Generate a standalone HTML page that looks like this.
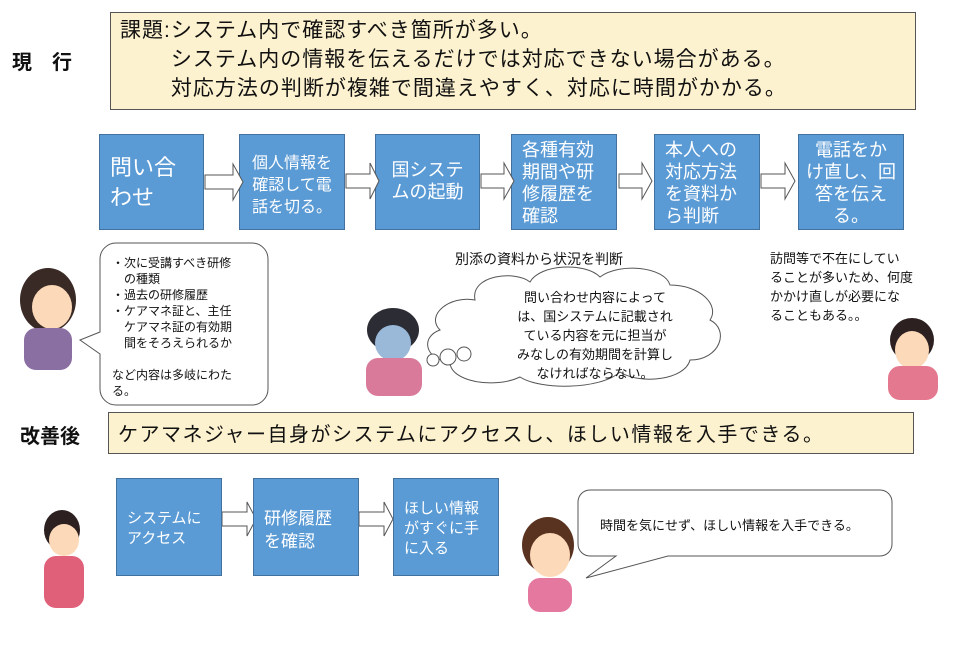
<!DOCTYPE html>
<html><head><meta charset="utf-8"><style>
body{margin:0;width:960px;height:652px;background:#fff;position:relative;overflow:hidden;font-family:"Liberation Sans","Noto Sans CJK JP",sans-serif;color:#111}
.a{position:absolute}
.y{background:#fdf2cf;border:1px solid #555}
.b{position:absolute;background:#5b9bd5;border:1px solid #41719c;color:#fff;box-sizing:border-box}
.b1{font-size:16px;line-height:22px;text-align:center;padding-top:6px}
</style></head><body>
<div class="a" style="left:12px;top:46px;font-size:20px;font-weight:bold">現　行</div>
<div class="a y" style="left:110px;top:12px;width:804px;height:96px"></div>
<div class="a" style="left:120px;top:16px;font-size:21px;letter-spacing:1px;line-height:29px;white-space:pre">課題:システム内で確認すべき箇所が多い。
　　 システム内の情報を伝えるだけでは対応できない場合がある。
　　 対応方法の判断が複雑で間違えやすく、対応に時間がかかる。</div>

<div class="b" style="left:99px;top:134px;width:105px;height:96px;font-size:22px;line-height:30px;padding:18px 0 0 10px">問い合<br>わせ</div>
<div class="b b1" style="left:239px;top:134px;width:106px;height:96px;padding-top:18px">個人情報を<br>確認して電<br>話を切る。</div>
<div class="b b1" style="left:375px;top:134px;width:105px;height:96px;font-size:18px;padding-top:24px">国システ<br>ムの起動</div>
<div class="b b1" style="left:511px;top:134px;width:106px;height:96px;font-size:18px;text-align:left;padding:4px 0 0 10px">各種有効<br>期間や研<br>修履歴を<br>確認</div>
<div class="b b1" style="left:654px;top:134px;width:106px;height:96px;font-size:18px;text-align:left;padding:4px 0 0 10px">本人への<br>対応方法<br>を資料か<br>ら判断</div>
<div class="b b1" style="left:798px;top:134px;width:106px;height:96px;font-size:18px;padding-top:4px">電話をか<br>け直し、回<br>答を伝え<br>る。</div>

<svg class="a" style="left:0;top:0" width="960" height="652">
<g fill="#fff" stroke="#555" stroke-width="1">
<path d="M205,175h28v-11l10,18l-10,18v-11h-28z"/>
<path d="M346,174h24v-11l9,18l-9,18v-11h-24z"/>
<path d="M481,174h23v-11l10,18l-10,18v-11h-23z"/>
<path d="M619,174h23v-11l10,18l-10,18v-11h-23z"/>
<path d="M761,174h24v-11l10,18l-10,18v-11h-24z"/>
<path d="M222,512h25v-10l9,17l-9,17v-10h-25z"/>
<path d="M359,512h25v-10l9,17l-9,17v-10h-25z"/>
<path d="M116,243h136a16,16 0 0 1 16,16v130a16,16 0 0 1-16,16h-136a16,16 0 0 1-16-16v-35l-20,-14l20,-8v-73a16,16 0 0 1 16-16z"/>
<path d="M590,490h290a12,12 0 0 1 12,12v42a12,12 0 0 1-12,12h-212l-82,22l30,-22h-26a12,12 0 0 1-12-12v-42a12,12 0 0 1 12-12z"/>
<path d="M475,300c-5,-25 40,-30 55,-18c10,-18 55,-20 70,-5c20,-15 65,-10 70,8c30,0 50,20 40,35c20,10 10,40 -20,40c-5,20 -50,25 -70,12c-20,18 -80,18 -100,5c-25,12 -70,5 -70,-15c-25,-2 -30,-25 -10,-32c-15,-15 10,-35 35,-30z"/>
<circle cx="448" cy="357" r="8"/><circle cx="433" cy="360" r="6"/><circle cx="464" cy="354" r="7"/>
</g>
<g>
<ellipse cx="48" cy="300" rx="28" ry="32" fill="#3a2a25"/><ellipse cx="52" cy="307" rx="20" ry="22" fill="#fcd9b8"/><rect x="24" y="328" width="48" height="42" rx="12" fill="#8a6fa3"/>
<ellipse cx="393" cy="330" rx="26" ry="22" fill="#2c2c34"/><ellipse cx="393" cy="343" rx="18" ry="18" fill="#9ab8d8"/><rect x="366" y="358" width="56" height="38" rx="12" fill="#d97a9a"/>
<ellipse cx="912" cy="340" rx="22" ry="22" fill="#2c2020"/><ellipse cx="912" cy="350" rx="17" ry="19" fill="#fcd9b8"/><rect x="888" y="366" width="50" height="34" rx="12" fill="#e4788f"/>
<ellipse cx="62" cy="530" rx="18" ry="20" fill="#2c2020"/><ellipse cx="64" cy="540" rx="15" ry="16" fill="#fcd9b8"/><rect x="44" y="556" width="40" height="52" rx="12" fill="#e0607a"/>
<ellipse cx="548" cy="545" rx="26" ry="28" fill="#5a3220"/><ellipse cx="550" cy="555" rx="20" ry="22" fill="#fcd9b8"/><rect x="528" y="578" width="44" height="34" rx="12" fill="#e4789f"/>
</g>
</svg>

<div class="a" style="left:112px;top:255px;font-size:12px;line-height:16px;white-space:pre">・次に受講すべき研修
　の種類
・過去の研修履歴
・ケアマネ証と、主任
　ケアマネ証の有効期
　間をそろえられるか

など内容は多岐にわた
る。</div>
<div class="a" style="left:455px;top:249px;font-size:14px">別添の資料から状況を判断</div>
<div class="a" style="left:500px;top:288px;width:190px;text-align:center;font-size:13px;line-height:19px">問い合わせ内容によって<br>は、国システムに記載され<br>ている内容を元に担当が<br>みなしの有効期間を計算し<br>なければならない。</div>
<div class="a" style="left:770px;top:249px;font-size:13px;line-height:19px">訪問等で不在にしてい<br>ることが多いため、何度<br>かかけ直しが必要にな<br>ることもある。。</div>

<div class="a" style="left:20px;top:420px;font-size:20px;font-weight:bold">改善後</div>
<div class="a y" style="left:108px;top:412px;width:804px;height:40px"></div>
<div class="a" style="left:118px;top:418px;font-size:20px;letter-spacing:1.5px">ケアマネジャー自身がシステムにアクセスし、ほしい情報を入手できる。</div>

<div class="b" style="left:116px;top:478px;width:106px;height:98px;font-size:15px;line-height:20px;padding:30px 0 0 10px">システムに<br>アクセス</div>
<div class="b" style="left:253px;top:478px;width:106px;height:98px;font-size:17px;line-height:23px;padding:28px 0 0 10px">研修履歴<br>を確認</div>
<div class="b" style="left:393px;top:478px;width:106px;height:98px;font-size:15px;line-height:20px;padding:20px 0 0 10px">ほしい情報<br>がすぐに手<br>に入る</div>
<div class="a" style="left:600px;top:515px;font-size:13px">時間を気にせず、ほしい情報を入手できる。</div>
</body></html>
